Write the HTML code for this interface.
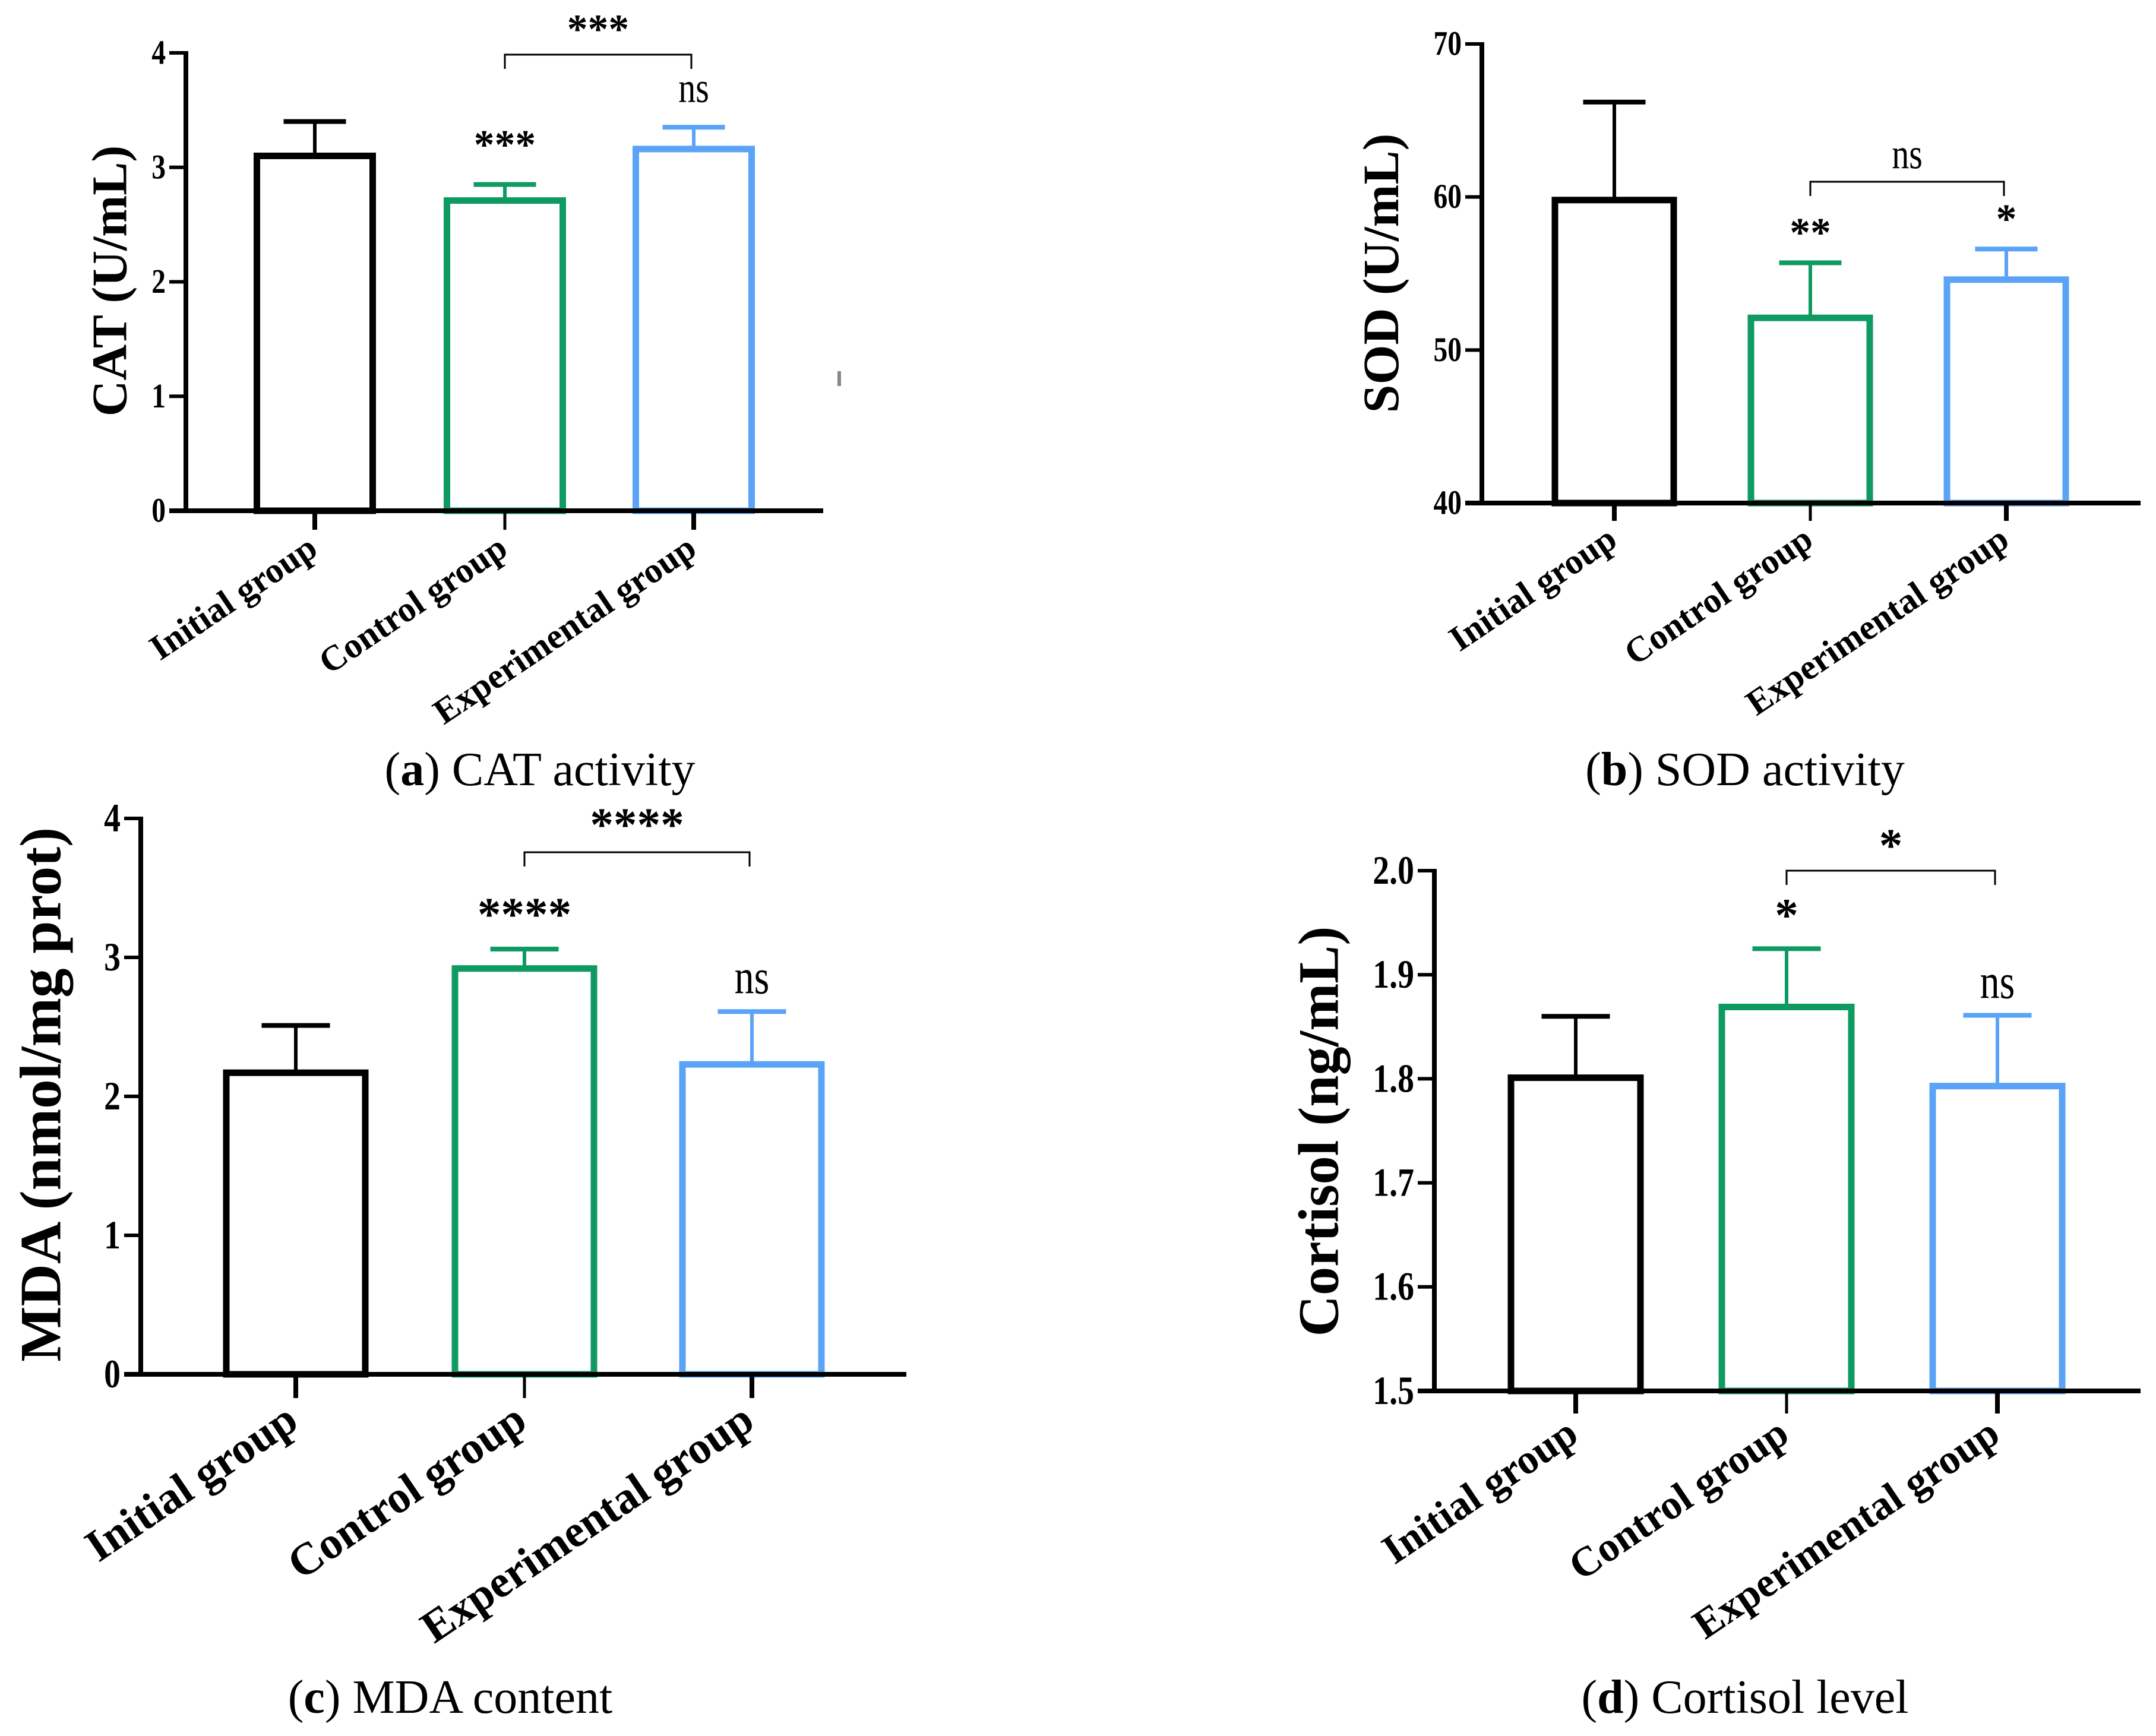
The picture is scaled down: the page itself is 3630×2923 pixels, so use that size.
<!DOCTYPE html>
<html><head><meta charset="utf-8"><style>
html,body{margin:0;padding:0;background:#fff;}
svg{display:block;}
text{font-family:"Liberation Serif",serif;}
</style></head>
<body>
<svg id="fig" xmlns="http://www.w3.org/2000/svg" width="3630" height="2923" viewBox="0 0 3630 2923">
<rect width="3630" height="2923" fill="#fff"/>
<rect x="1410" y="625" width="6" height="25" fill="#888"/>
<text x="909" y="1322" font-size="80" text-anchor="middle">(<tspan font-weight="bold">a</tspan>) CAT activity</text>
<text x="2938" y="1322" font-size="80" text-anchor="middle">(<tspan font-weight="bold">b</tspan>) SOD activity</text>
<text x="758" y="2884" font-size="80" text-anchor="middle">(<tspan font-weight="bold">c</tspan>) MDA content</text>
<text x="2938" y="2884" font-size="80" text-anchor="middle">(<tspan font-weight="bold">d</tspan>) Cortisol level</text>
</svg>
<script>
const categories = ["Initial group", "Control group", "Experimental group"];
const colors = ["#000000", "#0f9a62", "#5aa3f7"];
const catValues = [3.10, 2.71, 3.16];
const catErrors = [0.30, 0.14, 0.19];
const catTicks = [0, 1, 2, 3, 4];
const catSig = ["", "***", "ns"];
const catBracket = "***";
const sodValues = [59.8, 52.1, 54.6];
const sodErrors = [6.4, 3.6, 2.0];
const sodTicks = [40, 50, 60, 70];
const sodSig = ["", "**", "*"];
const sodBracket = "ns";
const mdaValues = [2.17, 2.92, 2.23];
const mdaErrors = [0.34, 0.14, 0.38];
const mdaTicks = [0, 1, 2, 3, 4];
const mdaSig = ["", "****", "ns"];
const mdaBracket = "****";
const corValues = [1.801, 1.869, 1.793];
const corErrors = [0.059, 0.056, 0.068];
const corTicks = [1.5, 1.6, 1.7, 1.8, 1.9, 2.0];
const corTickLabels = ["1.5", "1.6", "1.7", "1.8", "1.9", "2.0"];
const corSig = ["", "*", "ns"];
const corBracket = "*";

const NS = "http://www.w3.org/2000/svg";
const svg = document.getElementById("fig");
function mk(tag, attrs, parent) {
  const e = document.createElementNS(NS, tag);
  for (const k in attrs) e.setAttribute(k, attrs[k]);
  (parent || svg).appendChild(e);
  return e;
}
function sigText(g, s, x, y, fs) {
  const isNs = s === "ns";
  const t = mk("text", {x: x, y: y, "text-anchor": "middle", "font-size": isNs ? fs * 1.25 : fs * 1.2,
    "font-family": isNs ? '"Liberation Serif", serif' : '"Liberation Sans", sans-serif',
    "font-weight": isNs ? "normal" : "bold", "dominant-baseline": "central"}, g);
  if (isNs) t.setAttribute("transform", `translate(${x},0) scale(0.8,1) translate(${-x},0)`);
  t.textContent = s;
  return t;
}
function drawPanel(p, values, errors, ticks, tickLabels, sig, bracket) {
  const g = mk("g", {});
  
  
  const Y = v => p.y0 - (v - p.vmin) / (p.vmax - p.vmin) * (p.y0 - p.y1);
  values.forEach((v, i) => {
    const cx = p.cx[i], hw = p.bw / 2;
    const top = Y(v), et = Y(v + errors[i]);
    const el = mk("line", {x1: cx, x2: cx, y1: top, y2: et, stroke: colors[i], "stroke-width": 6}, g);
    
    
    const cap = mk("line", {x1: cx - p.cap / 2, x2: cx + p.cap / 2, y1: et, y2: et, stroke: colors[i], "stroke-width": 8}, g);
    
    
    const r = mk("rect", {x: cx - hw + 5, y: top, width: p.bw - 10, height: p.y0 - top, fill: "#fff", stroke: colors[i], "stroke-width": 11}, g);
    
    
    if (sig[i]) {
      const s = sigText(g, sig[i], cx, et - p.sigOff, p.sigFs);
      
      
    }
    const tk = mk("line", {x1: cx, x2: cx, y1: p.y0, y2: p.y0 + p.tickLen, stroke: "#000", "stroke-width": i === 1 ? 5 : 8}, g);
    
    
    const lx = cx + 8, ly = p.y0 + p.tickLen + p.xlOff;
    const lb = mk("text", {x: lx, y: ly, "text-anchor": "end", "font-size": p.xfs, "font-weight": "bold",
      transform: `rotate(-34 ${lx} ${ly})`}, g);
    
    
    lb.textContent = categories[i];
  });
  const ax = mk("line", {x1: p.ax, x2: p.ax, y1: Y(p.vmax) - 3, y2: p.y0 + 4, stroke: "#000", "stroke-width": 8}, g);
  
  
  const xa = mk("line", {x1: p.ax - 28, x2: p.xend, y1: p.y0, y2: p.y0, stroke: "#000", "stroke-width": 8}, g);
  
  
  ticks.forEach((t, i) => {
    const ty = Y(t);
    const tl = mk("line", {x1: p.ax - 28, x2: p.ax, y1: ty, y2: ty, stroke: "#000", "stroke-width": 6}, g);
    
    
    const tx = mk("text", {x: p.ax - 34, y: ty, "text-anchor": "end", "dominant-baseline": "central",
      "font-size": p.tfs, "font-weight": "bold", transform: `translate(${p.ax - 34},0) scale(0.82,1) translate(${-(p.ax - 34)},0)`}, g);
    
    
    tx.textContent = tickLabels[i];
  });
  const yt = mk("text", {x: p.ytx, y: p.yty, "text-anchor": "middle", "dominant-baseline": "central",
    "font-size": p.yfs, "font-weight": "bold", transform: `rotate(-90 ${p.ytx} ${p.yty})`}, g);
  
  
  yt.textContent = p.ytitle;
  const bx1 = p.cx[1], bx2 = p.cx[2] - 4;
  const br = mk("polyline", {points: `${bx1},${p.by + 24} ${bx1},${p.by} ${bx2},${p.by} ${bx2},${p.by + 24}`,
    fill: "none", stroke: "#000", "stroke-width": 3}, g);
  
  
  const bt = sigText(g, bracket, (bx1 + bx2) / 2, p.by - p.bOff, p.sigFs);
  
  
}
drawPanel({name: "panel-a-cat", ax: 313, y0: 860, y1: 89, vmin: 0, vmax: 4, xend: 1386, cx: [530, 850, 1168], bw: 205, cap: 105,
  tickLen: 32, xlOff: 40, xfs: 60, tfs: 58, yfs: 84, ytx: 185, yty: 473, ytitle: "CAT (U/mL)", by: 92, bOff: 42, sigFs: 58, sigOff: 66},
  catValues, catErrors, catTicks, catTicks.map(String), catSig, catBracket);
drawPanel({name: "panel-b-sod", ax: 2495, y0: 847, y1: 74, vmin: 40, vmax: 70, xend: 3604, cx: [2718, 3048, 3378], bw: 210, cap: 105,
  tickLen: 30, xlOff: 40, xfs: 60, tfs: 58, yfs: 86, ytx: 2325, yty: 460, ytitle: "SOD (U/mL)", by: 306, bOff: 46, sigFs: 58, sigOff: 50},
  sodValues, sodErrors, sodTicks, sodTicks.map(String), sodSig, sodBracket);
drawPanel({name: "panel-c-mda", ax: 237, y0: 2314, y1: 1378, vmin: 0, vmax: 4, xend: 1526, cx: [498, 883, 1266], bw: 244, cap: 115,
  tickLen: 40, xlOff: 48, xfs: 76, tfs: 68, yfs: 99, ytx: 69, yty: 1843, ytitle: "MDA (nmol/mg prot)", by: 1435, bOff: 46, sigFs: 66, sigOff: 58},
  mdaValues, mdaErrors, mdaTicks, mdaTicks.map(String), mdaSig, mdaBracket);
drawPanel({name: "panel-d-cortisol", ax: 2415, y0: 2342, y1: 1466, vmin: 1.5, vmax: 2.0, xend: 3604, cx: [2653, 3008, 3363], bw: 228, cap: 115,
  tickLen: 38, xlOff: 44, xfs: 70, tfs: 68, yfs: 96, ytx: 2220, yty: 1905, ytitle: "Cortisol (ng/mL)", by: 1466, bOff: 42, sigFs: 66, sigOff: 56},
  corValues, corErrors, corTicks, corTickLabels, corSig, corBracket);
</script>
</body></html>
